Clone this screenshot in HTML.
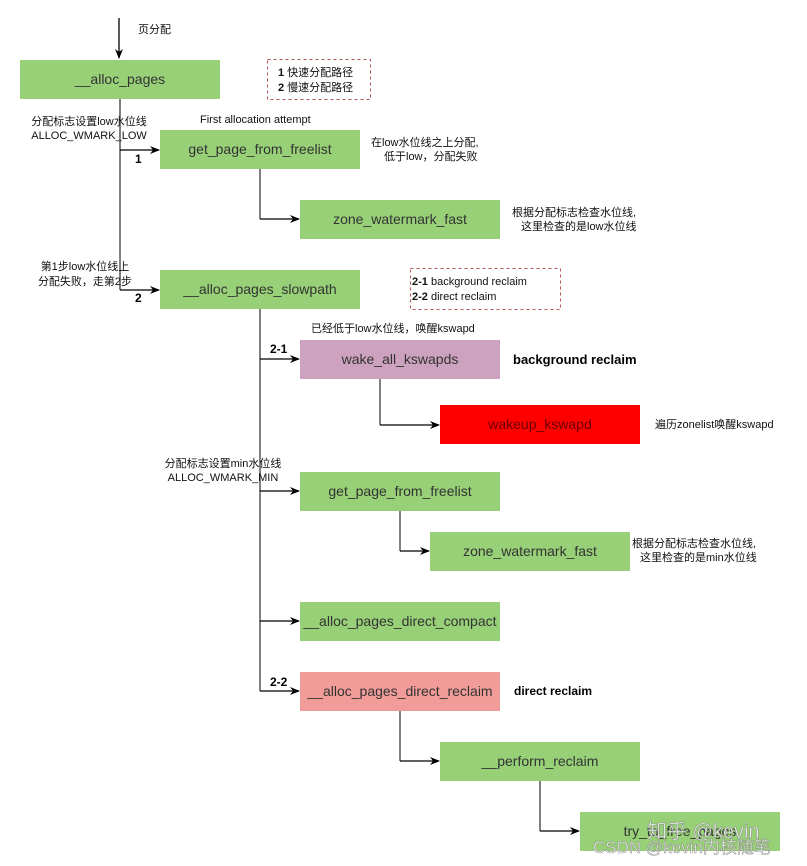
<!DOCTYPE html>
<html><head><meta charset="utf-8"><style>
html,body{margin:0;padding:0;background:#fff;}
svg{display:block;}
text{font-family:"Liberation Sans","Noto Sans CJK SC",sans-serif;}
</style></head><body>
<svg width="807" height="866" viewBox="0 0 807 866" xmlns="http://www.w3.org/2000/svg">
<defs><marker id="a" markerWidth="10" markerHeight="10" refX="9" refY="5" orient="auto" markerUnits="userSpaceOnUse"><path d="M0,1 L10,5 L0,9 L3,5 z" fill="#000"/></marker></defs>
<g fill="none" stroke="#808080" stroke-width="2">
<line x1="120" y1="99" x2="120" y2="290"/>
<line x1="260" y1="309" x2="260" y2="691"/>
<line x1="260" y1="169" x2="260" y2="219"/>
<line x1="380" y1="379" x2="380" y2="425"/>
<line x1="400" y1="511" x2="400" y2="551"/>
<line x1="400" y1="711" x2="400" y2="761"/>
<line x1="540" y1="781" x2="540" y2="831"/>
</g>
<g stroke="#000" stroke-width="1.3" marker-end="url(#a)">
<line x1="119" y1="18" x2="119" y2="58"/>
<line x1="120" y1="150" x2="159" y2="150"/>
<line x1="120" y1="290" x2="159" y2="290"/>
<line x1="260" y1="219" x2="299" y2="219"/>
<line x1="260" y1="359" x2="299" y2="359"/>
<line x1="380" y1="425" x2="439" y2="425"/>
<line x1="260" y1="491" x2="299" y2="491"/>
<line x1="400" y1="551" x2="429" y2="551"/>
<line x1="260" y1="621" x2="299" y2="621"/>
<line x1="260" y1="691" x2="299" y2="691"/>
<line x1="400" y1="761" x2="439" y2="761"/>
<line x1="540" y1="831" x2="579" y2="831"/>
</g>
<g fill="#97d077">
<rect x="20" y="60" width="200" height="39"/>
<rect x="160" y="130" width="200" height="39"/>
<rect x="300" y="200" width="200" height="39"/>
<rect x="160" y="270" width="200" height="39"/>
<rect x="300" y="472" width="200" height="39"/>
<rect x="430" y="532" width="200" height="39"/>
<rect x="300" y="602" width="200" height="39"/>
<rect x="440" y="742" width="200" height="39"/>
<rect x="580" y="812" width="200" height="39"/>
</g>
<rect x="300" y="340" width="200" height="39" fill="#cda2be"/>
<rect x="440" y="405" width="200" height="39" fill="#ff0000"/>
<rect x="300" y="672" width="200" height="39" fill="#f19c99"/>
<g fill="none" stroke="#b85450" stroke-dasharray="3,3" stroke-width="1">
<rect x="267.5" y="59.5" width="103" height="40"/>
<rect x="410.5" y="268.5" width="150" height="41"/>
</g>
<g font-size="14" fill="#333" text-anchor="middle">
<text x="120" y="84">__alloc_pages</text>
<text x="260" y="154">get_page_from_freelist</text>
<text x="400" y="224">zone_watermark_fast</text>
<text x="260" y="294">__alloc_pages_slowpath</text>
<text x="400" y="364">wake_all_kswapds</text>
<text x="540" y="429" fill="#6a0000">wakeup_kswapd</text>
<text x="400" y="496">get_page_from_freelist</text>
<text x="530" y="556">zone_watermark_fast</text>
<text x="400" y="626">__alloc_pages_direct_compact</text>
<text x="400" y="696">__alloc_pages_direct_reclaim</text>
<text x="540" y="766">__perform_reclaim</text>
<text x="680" y="836">try_to_free_pages</text>
</g>
<g font-size="11" fill="#111">
<text x="138" y="33">页分配</text>
<text x="278" y="76"><tspan font-weight="bold">1</tspan> 快速分配路径</text>
<text x="278" y="91"><tspan font-weight="bold">2</tspan> 慢速分配路径</text>
<text x="412" y="285"><tspan font-weight="bold">2-1</tspan> background reclaim</text>
<text x="412" y="300"><tspan font-weight="bold">2-2</tspan> direct reclaim</text>
<text x="200" y="123">First allocation attempt</text>
<text x="89" y="125" text-anchor="middle">分配标志设置low水位线</text>
<text x="89" y="139" text-anchor="middle">ALLOC_WMARK_LOW</text>
<text x="371" y="146">在low水位线之上分配,</text>
<text x="384" y="160">低于low，分配失败</text>
<text x="512" y="216">根据分配标志检查水位线,</text>
<text x="521" y="230">这里检查的是low水位线</text>
<text x="85" y="270" text-anchor="middle">第1步low水位线上</text>
<text x="85" y="285" text-anchor="middle">分配失败，走第2步</text>
<text x="311" y="332">已经低于low水位线，唤醒kswapd</text>
<text x="655" y="428">遍历zonelist唤醒kswapd</text>
<text x="223" y="467" text-anchor="middle">分配标志设置min水位线</text>
<text x="223" y="481" text-anchor="middle">ALLOC_WMARK_MIN</text>
<text x="632" y="547">根据分配标志检查水位线,</text>
<text x="640" y="561">这里检查的是min水位线</text>
</g>
<g font-size="12" font-weight="bold" fill="#000">
<text x="135" y="163">1</text>
<text x="135" y="302">2</text>
<text x="270" y="353">2-1</text>
<text x="270" y="686">2-2</text>
<text x="513" y="364" font-size="13">background reclaim</text>
<text x="514" y="695">direct reclaim</text>
</g>
<g font-size="20" fill="#fff" stroke="#888" stroke-width="0.6" opacity="0.85">
<text x="647" y="838">知乎 @kevin</text>
<text x="593" y="853" font-size="17">CSDN @kevin内核随笔</text>
</g>
</svg>
</body></html>
